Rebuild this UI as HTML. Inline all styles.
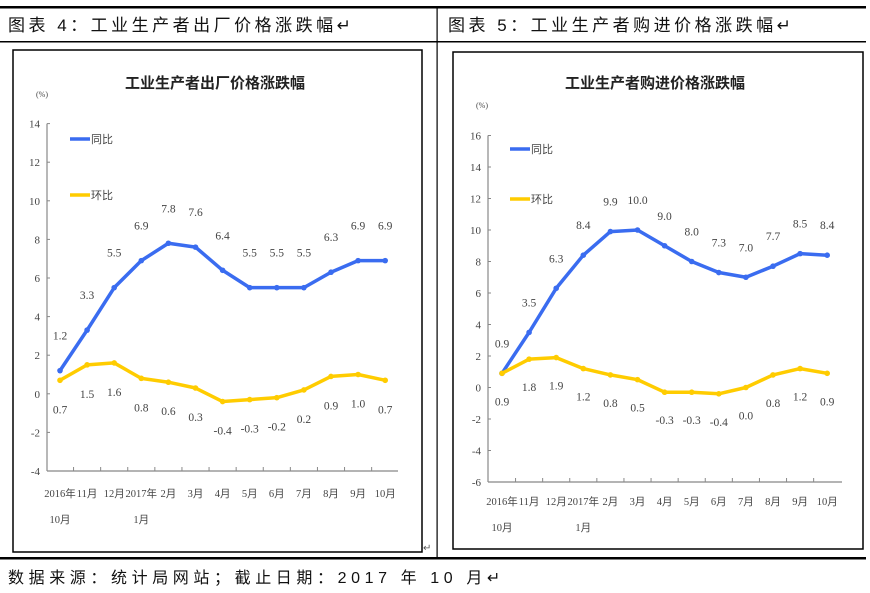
<!DOCTYPE html>
<html><head><meta charset="utf-8"><style>
body{margin:0;background:#fff;width:870px;height:593px;overflow:hidden}
svg{display:block}
</style></head><body>
<svg id="s" width="870" height="593" xmlns="http://www.w3.org/2000/svg" font-family="Liberation Serif, 'Noto Sans CJK SC', serif">
<rect x="0" y="6" width="866" height="2.5" fill="#000"/>
<rect x="0" y="41" width="866" height="1.5" fill="#000"/>
<rect x="0" y="557" width="866" height="2.5" fill="#000"/>
<rect x="436.5" y="6" width="1.2" height="553" fill="#000"/>
<text x="8" y="31" font-size="17" letter-spacing="3.5" font-family="'Liberation Sans','Noto Sans CJK SC',sans-serif" fill="#111">图表 4：工业生产者出厂价格涨跌幅↵</text>
<text x="448" y="31" font-size="17" letter-spacing="3.5" font-family="'Liberation Sans','Noto Sans CJK SC',sans-serif" fill="#111">图表 5：工业生产者购进价格涨跌幅↵</text>
<text x="8" y="583" font-size="16" letter-spacing="4.6" font-family="'Liberation Sans','Noto Sans CJK SC',sans-serif" fill="#111">数据来源：统计局网站；截止日期：2017 年 10 月↵</text>
<rect x="13" y="50" width="409" height="502" fill="none" stroke="#000" stroke-width="1.5"/>
<rect x="453" y="52" width="410" height="497" fill="none" stroke="#000" stroke-width="1.5"/>
<text x="423" y="551" font-size="10" fill="#555">↵</text>
<g id="g"></g>
</svg>
<script>
var g=document.getElementById('g'),h='';
var cats=[['2016年','10月'],['11月'],['12月'],['2017年','1月'],['2月'],['3月'],['4月'],['5月'],['6月'],['7月'],['8月'],['9月'],['10月']];
function chart(c){
 var ax=c.ax,y=function(v){return c.y0-(v-c.min)/2*c.step;};
 h+='<text x="'+c.tx+'" y="88" font-size="15" font-weight="bold" text-anchor="middle" fill="#222" font-family="\'Noto Sans CJK SC\',sans-serif">'+c.title+'</text>';
 h+='<text x="'+c.px+'" y="'+c.py+'" font-size="8" fill="#444">(%)</text>';
 var top=y(c.max);
 h+='<line x1="'+ax+'" y1="'+top+'" x2="'+ax+'" y2="'+c.y0+'" stroke="#888" stroke-width="1.2"/>';
 h+='<line x1="'+ax+'" y1="'+c.y0+'" x2="'+c.xe+'" y2="'+c.y0+'" stroke="#888" stroke-width="1.2"/>';
 for(var v=c.min;v<=c.max;v+=2){var yy=y(v);h+='<line x1="'+ax+'" y1="'+yy+'" x2="'+(ax+3)+'" y2="'+yy+'" stroke="#888"/>';
  h+='<text x="'+(ax-7)+'" y="'+(yy+4)+'" font-size="11" text-anchor="end" fill="#444">'+v+'</text>';}
 for(var i=0;i<13;i++){var xx=c.x0+i*c.dx;
  var tx=xx+c.dx/2; if(i<12)h+='<line x1="'+tx+'" y1="'+c.y0+'" x2="'+tx+'" y2="'+(c.y0-4)+'" stroke="#888"/>';
  h+='<text x="'+xx+'" y="'+c.ly+'" font-size="10.5" text-anchor="middle" fill="#444">'+cats[i][0]+'</text>';
  if(cats[i][1])h+='<text x="'+xx+'" y="'+(c.ly+26)+'" font-size="10.5" text-anchor="middle" fill="#444">'+cats[i][1]+'</text>';}
 [[c.b,'#3a6cf0',-c.ba],[c.yl,'#ffcc00',c.yb]].forEach(function(s){
  var p=s[0].map(function(v,i){return (c.x0+i*c.dx)+','+y(v);}).join(' ');
  h+='<polyline points="'+p+'" fill="none" stroke="'+s[1]+'" stroke-width="3.5" stroke-linejoin="round"/>';
  s[0].forEach(function(v,i){var xx=c.x0+i*c.dx;h+='<circle cx="'+xx+'" cy="'+y(v)+'" r="2.8" fill="'+s[1]+'"/>';
   h+='<text x="'+xx+'" y="'+(y(v)+s[2]+4)+'" font-size="11.5" text-anchor="middle" fill="#444">'+v.toFixed(1)+'</text>';});
 });
 h+='<line x1="'+c.lgx+'" y1="'+c.lg1+'" x2="'+(c.lgx+20)+'" y2="'+c.lg1+'" stroke="#3a6cf0" stroke-width="3.5"/><text x="'+(c.lgx+21)+'" y="'+(c.lg1+4)+'" font-size="11" fill="#444" font-family="\'Noto Sans CJK SC\',sans-serif">同比</text>';
 h+='<line x1="'+c.lgx+'" y1="'+c.lg2+'" x2="'+(c.lgx+20)+'" y2="'+c.lg2+'" stroke="#ffcc00" stroke-width="3.5"/><text x="'+(c.lgx+21)+'" y="'+(c.lg2+4)+'" font-size="11" fill="#444" font-family="\'Noto Sans CJK SC\',sans-serif">环比</text>';
}
chart({ax:47,y0:471,min:-4,max:14,step:38.6,x0:60,dx:27.1,xe:398,ly:497,title:'工业生产者出厂价格涨跌幅',tx:215,px:36,py:97,
 b:[1.2,3.3,5.5,6.9,7.8,7.6,6.4,5.5,5.5,5.5,6.3,6.9,6.9],yl:[0.7,1.5,1.6,0.8,0.6,0.3,-0.4,-0.3,-0.2,0.2,0.9,1.0,0.7],ba:35,yb:29,lgx:70,lg1:139,lg2:195});
chart({ax:488,y0:482,min:-6,max:16,step:31.5,x0:502,dx:27.1,xe:842,ly:505,title:'工业生产者购进价格涨跌幅',tx:655,px:476,py:108,
 b:[0.9,3.5,6.3,8.4,9.9,10.0,9.0,8.0,7.3,7.0,7.7,8.5,8.4],yl:[0.9,1.8,1.9,1.2,0.8,0.5,-0.3,-0.3,-0.4,0.0,0.8,1.2,0.9],ba:30,yb:28,lgx:510,lg1:149,lg2:199});
g.innerHTML=h;
</script>
</body></html>
